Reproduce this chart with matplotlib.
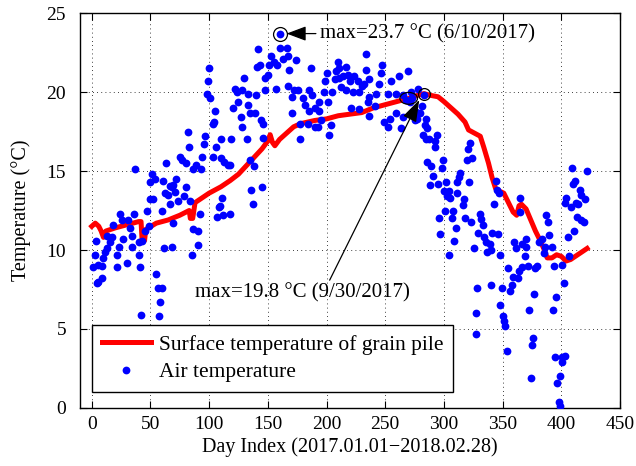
import matplotlib
matplotlib.use("Agg")
import matplotlib.pyplot as plt
from matplotlib.patches import Ellipse

plt.rcParams['font.family'] = ['Liberation Serif', 'DejaVu Serif']
plt.rcParams['mathtext.fontset'] = 'stix'

# Surface temperature of grain pile
surf_day = [0, 3, 6, 8, 10, 12, 20, 30, 40, 42, 43, 45, 46, 55, 65, 75, 83, 84, 86, 88,
            92, 100, 110, 118, 125, 135, 145, 150, 152, 154, 156, 160, 166, 172, 178, 190,
            200, 210, 220, 230, 240, 250, 260, 270, 278, 283, 288, 295, 300, 306, 312, 318,
            321, 326, 331, 334, 338, 341, 344, 348, 351, 355, 359, 362, 364, 366, 370, 374,
            378, 382, 385, 388, 392, 396, 400, 404, 408, 414, 418, 422]
surf_temp = [11.5, 11.7, 11.5, 11.2, 10.8, 11.2, 11.4, 11.6, 11.8, 11.8, 10.5, 10.6, 11.3,
             11.7, 11.9, 12.2, 12.5, 12.0, 12.0, 13.0, 13.2, 13.6, 14.0, 14.4, 14.8, 15.6,
             16.4, 16.9, 17.3, 16.8, 16.6, 17.0, 17.4, 17.8, 18.0, 18.2, 18.3, 18.5, 18.6,
             18.7, 19.0, 19.2, 19.4, 19.6, 19.8, 19.9, 19.8, 19.7, 19.4, 19.0, 18.6, 18.1,
             17.6, 17.4, 17.2, 16.5, 15.5, 14.6, 13.9, 13.7, 13.6, 13.0, 12.4, 12.2, 12.8,
             12.9, 12.6, 11.9, 11.2, 10.6, 10.1, 9.5, 9.5, 9.7, 9.6, 9.3, 9.4, 9.7, 9.9, 10.1]

# Air temperature
air_day = [37, 50, 50, 47, 24, 36, 25.6, 31, 18.5, 32.7, 45.5, 48.4, 12.8, 17, 34, 27, 15.6,
           3.4, 40, 42.7, 22.8, 34, 12.8, 11.4, 2.8, 21.3, 40, 10, 30, 1.4, 5.7, 9.1, 21.3,
           41, 8.5, 5.7, 4.3, 42,
           100, 99, 98.5, 101, 105, 103, 104, 82, 96.4, 83, 95.6, 106, 75, 77, 80, 93.6, 103,
           89, 86.5, 92.7, 63, 51, 54, 72, 66.6, 69, 80, 62, 71, 79, 52, 73.7, 84, 66.6, 59.5,
           108, 92, 106.4, 69, 86, 90.7, 90.7, 85, 61.5, 68, 55, 56.6, 59.5, 58, 57.5, 60.7,
           65, 68,
           160, 142, 160, 166, 153, 155, 158, 151, 163, 143, 141, 150, 148, 130, 122, 124,
           128, 133, 157, 148, 140, 124.6, 133, 120, 134.6, 139, 127.5, 144, 146, 128, 146,
           110, 119, 132.5, 110.4, 113, 116, 118, 135, 138, 136, 145, 137, 111, 109, 117.5, 112,
           174, 167, 168, 187, 209.7, 211, 216.8, 208, 218, 200, 214, 211, 199, 207, 219.6,
           167, 172, 176, 198, 212.5, 216.8, 222.5, 205, 185.5, 188, 171, 180, 194, 201, 182,
           190, 221, 185, 171, 194, 195, 177, 184, 190, 193, 204, 202.5, 177.5,
           233.6, 247, 233.6, 246, 269, 262, 223.6, 227, 230, 236, 255, 245, 232, 228, 242,
           252, 259, 265, 272, 278, 283, 236, 235, 241, 228, 236, 259, 254, 265, 249, 275,
           276, 252, 263.5, 281, 277, 285, 284, 282, 285, 285.6, 268, 273, 271, 280,
           285.6, 294, 292.8, 287, 292, 322.6, 320.6, 324, 320, 289, 299, 298, 290.4, 313.5,
           313, 311, 321.7, 301.8, 295, 288.5, 300, 304, 302.7, 305.6, 311, 316.9, 316, 344,
           345.4, 342.5, 300.7, 307.5, 295.6, 307, 318, 323.5, 331, 332, 333, 310, 329, 334,
           336, 339, 340, 337, 341, 346, 297, 309, 326, 304, 328, 340.5, 327, 327.5,
           365, 364.5, 387, 389, 389.5, 359.6, 369.6, 366.7, 361, 370, 383.8, 381, 386, 391.7,
           385, 347.4, 369, 393.7, 400.8, 354.8, 363.8, 366.7, 371.8, 377.5, 379.5, 358.7,
           363.3, 357.6, 349.7, 356, 376.7, 402, 395.7, 348, 372.4, 392.8, 350, 351, 352,
           375.8, 374.7, 354, 394.6, 400.8, 398.6, 396.6, 373.8, 398, 399, 347,
           408.8, 422, 411.6, 410, 415.6, 416.5, 420, 404.3, 403, 408, 412.8, 414, 413.7, 419,
           417, 410.8, 406, 406.5, 400.8, 403]
air_temp = [15.1, 14.3, 13.2, 12.5, 12.3, 12.3, 11.9, 11.9, 11.6, 11.4, 11.2, 11.5, 10.9, 10.8,
            10.9, 10.7, 10.5, 10.6, 10.5, 10.6, 10.2, 10.2, 10.1, 9.9, 9.7, 9.7, 9.7, 9.5, 9.2,
            8.9, 9.05, 9.0, 8.9, 8.9, 8.2, 8.0, 7.9, 5.9,
            21.5, 20.7, 19.9, 19.6, 18.8, 18.0, 18.1, 17.5, 17.2, 16.5, 16.7, 16.5, 15.9, 15.7,
            15.5, 15.9, 15.9, 15.4, 15.1, 15.1, 15.5, 14.8, 14.5, 14.5, 14.05, 14.1, 14.0, 13.6,
            13.65, 13.4, 13.2, 13.1, 13.1, 12.9, 12.5, 12.75, 12.3, 12.1, 11.7, 11.3, 11.2, 10.3,
            9.7, 10.1, 10.2, 8.5, 7.6, 7.6, 6.7, 5.8, 14.4, 13.5, 14.0,
            23.7, 22.7, 22.8, 22.8, 22.3, 21.9, 21.7, 21.7, 22.1, 21.7, 21.6, 21.1, 20.9, 20.9,
            20.2, 20.0, 20.1, 19.9, 20.2, 20.1, 19.8, 19.4, 19.2, 19.0, 18.7, 18.7, 18.4, 18.2,
            18.0, 17.8, 17.1, 17.0, 17.0, 17.0, 15.8, 15.6, 15.4, 15.4, 15.7, 15.3, 13.8, 14.0,
            12.9, 13.3, 12.8, 12.3, 12.2,
            22.0, 22.3, 21.4, 21.5, 21.9, 21.5, 21.6, 21.3, 21.1, 21.2, 21.0, 20.9, 20.7, 20.8,
            20.7, 20.4, 20.1, 20.1, 20.0, 20.3, 20.1, 20.0, 20.0, 20.1, 19.8, 19.7, 19.6, 19.4,
            19.4, 19.2, 19.0, 19.0, 18.8, 18.7, 18.8, 18.2, 18.0, 17.95, 17.8, 17.8, 17.9, 17.3,
            17.0,
            22.4, 21.7, 21.4, 21.2, 21.3, 21.0, 21.0, 20.7, 20.4, 20.8, 20.7, 20.5, 20.5, 20.0,
            19.9, 19.9, 19.9, 19.8, 20.0, 20.2, 19.8, 19.7, 19.4, 19.1, 18.9, 18.5, 18.7, 18.3,
            18.4, 18.1, 18.2, 18.75, 17.8, 17.7, 19.1, 18.3, 18.3, 17.9, 17.3, 17.0, 15.6, 19.5,
            19.6, 19.4, 18.7,
            17.7, 17.3, 16.9, 17.0, 16.5, 16.8, 16.4, 15.8, 15.7, 15.3, 15.7, 15.2, 14.7, 14.9,
            14.6, 14.3, 14.3, 14.3, 14.2, 14.1, 13.75, 13.75, 13.4, 13.3, 13.6, 13.2, 12.85, 14.4,
            13.8, 12.9, 12.5, 12.5, 12.0, 12.0, 12.0, 11.8, 12.3, 11.95, 11.6, 11.4, 11.1, 10.85,
            10.5, 10.4, 10.0, 9.9, 11.1, 11.0, 11.0, 10.6, 10.1, 9.7, 7.6, 7.8, 6.0, 4.7,
            13.3, 12.4, 12.2, 11.8, 10.95, 10.5, 10.7, 10.4, 10.1, 10.2, 10.7, 10.5, 10.2, 10.2,
            9.8, 9.7, 9.6, 9.0, 9.05, 8.85, 8.7, 8.95, 9.0, 8.85, 9.0, 8.3, 8.2, 7.8, 7.6, 7.4,
            7.2, 7.9, 7.05, 6.5, 6.2, 6.2, 5.8, 5.5, 5.2, 4.4, 4.0, 3.6, 3.2, 3.2, 2.0, 1.6, 1.9,
            0.35, 0.1, 13.6,
            15.2, 15.0, 14.4, 14.2, 13.8, 13.5, 13.2, 13.3, 13.0, 12.7, 13.0, 12.9, 12.1, 11.8,
            11.9, 11.2, 10.8, 9.6, 2.9, 3.3]

x_ticks = [0, 50, 100, 150, 200, 250, 300, 350, 400, 450]
y_ticks = [0, 5, 10, 15, 20, 25]

air_max = (160, 23.7)
surf_max = (283, 19.9)

fig = plt.figure(figsize=(6.36, 4.66), dpi=100)
ax = fig.add_axes([0.1258, 0.1245, 0.8490, 0.8475])

ax.plot(surf_day, surf_temp, color='#ff0000', linewidth=3.6, solid_joinstyle='round',
        label='Surface temperature of grain pile', zorder=3)
ax.plot(air_day, air_temp, linestyle='none', marker='o', markersize=5.6, color='#0000ff',
        markeredgewidth=0, label='Air temperature', zorder=4)

# markers for maxima
ax.plot([air_max[0]], [air_max[1]], marker='o', markersize=10, markerfacecolor='none',
        markeredgecolor='k', markeredgewidth=0.9, linestyle='none', zorder=5)
ax.plot([surf_max[0]], [surf_max[1]], marker='o', markersize=8.5, markerfacecolor='none',
        markeredgecolor='k', markeredgewidth=0.9, linestyle='none', zorder=5)
ax.add_patch(Ellipse((270, 19.6), 15, 0.75, fill=False, edgecolor='k', linewidth=0.9, zorder=5))

ax.annotate('max=23.7 °C (6/10/2017)', xy=(166, 23.7), xytext=(194.5, 23.7),
            fontsize=15, va='center', ha='left',
            arrowprops=dict(arrowstyle='-|>,head_length=0.8,head_width=0.3', color='k',
                            linewidth=0.9, shrinkA=1, shrinkB=0))
ax.annotate('max=19.8 °C (9/30/2017)', xy=(279, 19.5), xytext=(88, 7.3),
            fontsize=15, va='center', ha='left', zorder=6,
            arrowprops=dict(arrowstyle='-|>,head_length=0.9,head_width=0.3', color='k',
                            linewidth=0.9, shrinkA=0, shrinkB=0, relpos=(0.62, 1.0)))

ax.set_xlim(-10, 450)
ax.set_ylim(0, 25)
ax.set_xticks(x_ticks)
ax.set_yticks(y_ticks)
ax.tick_params(direction='in', top=True, right=True, labelsize=14, length=5, width=0.8)
ax.tick_params(axis='y', pad=10)
ax.tick_params(axis='x', pad=6)
ax.grid(True, color='k', linestyle=(0, (1, 4)), linewidth=0.6)
for s in ax.spines.values():
    s.set_linewidth(1.0)

ax.set_xlabel('Day Index (2017.01.01\u22122018.02.28)', fontsize=14.5, labelpad=3)
ax.set_ylabel('Temperature (°C)', fontsize=14.5, labelpad=11)

leg = ax.legend(loc='lower left', bbox_to_anchor=(0.022, 0.04), fontsize=15.5,
                fancybox=False, edgecolor='k', framealpha=1, handlelength=2.3,
                borderpad=0.45, labelspacing=0.35, borderaxespad=0, handletextpad=0.35)
leg.get_frame().set_linewidth(1.0)
leg.set_zorder(10)

fig.savefig('out.png', dpi=100)
